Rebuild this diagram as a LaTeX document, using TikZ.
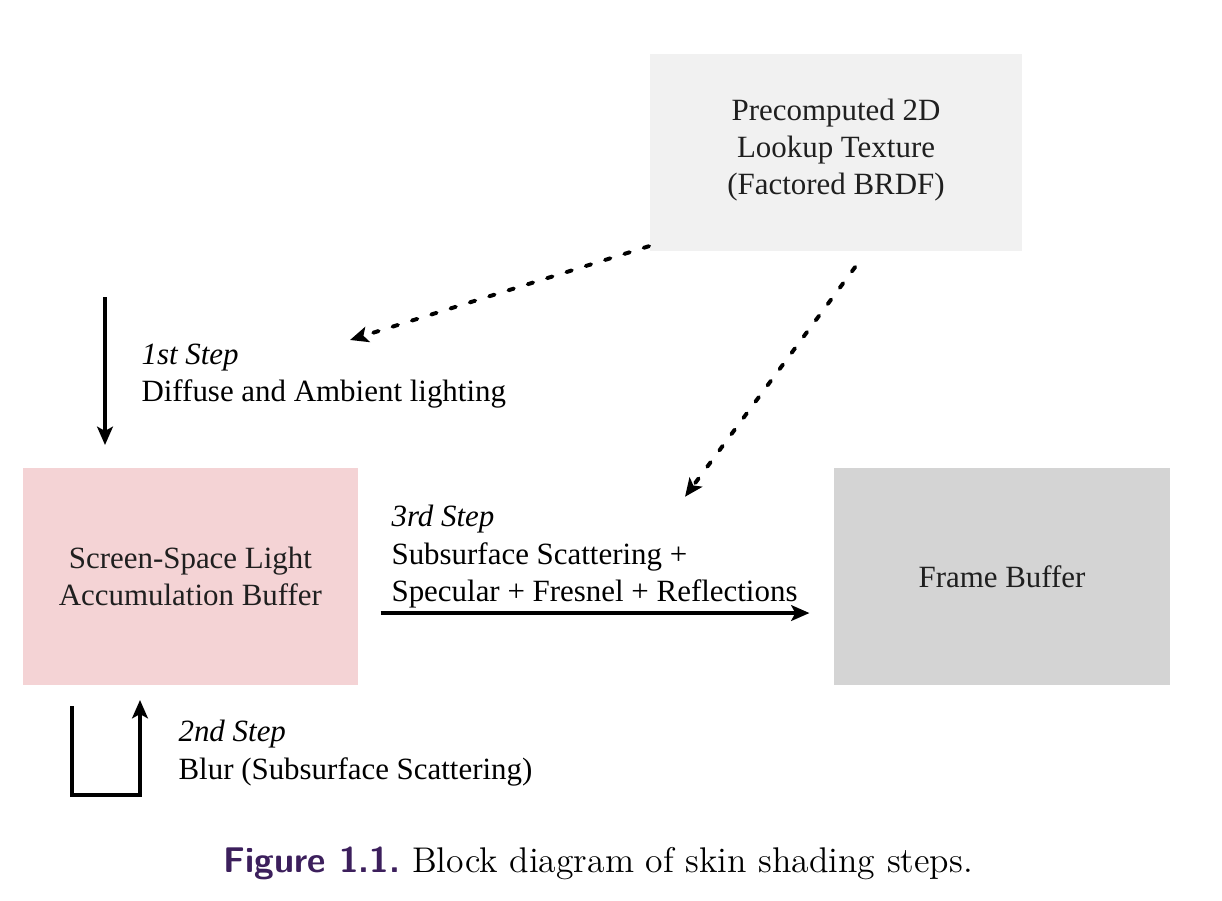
\documentclass[tikz,border=0pt]{standalone}
\usepackage{fontspec}
\setmainfont{Liberation Serif}
\newfontfamily\capfont{Latin Modern Roman}
\newfontfamily\capsans{Latin Modern Sans}
\usetikzlibrary{arrows,arrows.meta}
\usetikzlibrary{positioning, calc}
\definecolor{texgray}{HTML}{F1F1F1}
\definecolor{lightpink}{HTML}{F4D3D5}
\definecolor{framegray}{HTML}{D4D4D4}
\definecolor{capviolet}{HTML}{3C1F5C}
\tikzset{
    block/.style={fill=#1, draw=none, align=center, inner sep=0pt,
        font=\fontsize{11pt}{13.2pt}\selectfont, text=black!88},
    steptext/.style={align=left, anchor=west, inner sep=0pt,
        font=\fontsize{11pt}{13.4pt}\selectfont},
    solidarrow/.style={line width=1.4pt, -{Stealth[length=6.5pt, width=5.6pt, inset=1.5pt]}},
    dotarrow/.style={line width=1.4pt, line cap=round, dash pattern=on 2pt off 5.2pt,
        -{Stealth[length=6.5pt, width=5.6pt, inset=1.5pt]}}
}

\begin{document}
\begin{tikzpicture}
    \useasboundingbox (0,0) rectangle (15.275,11.25);
    % blocks
    \node[block=texgray, minimum width=4.66cm, minimum height=2.46cm] (lut) at (10.45,9.34)
        {Precomputed 2D\\Lookup Texture\\(Factored BRDF)\\[-0.32cm]};
    \node[block=lightpink, minimum width=4.19cm, minimum height=2.71cm] (light) at (2.38,4.044)
        {Screen-Space Light\\Accumulation Buffer};
    \node[block=framegray, minimum width=4.2cm, minimum height=2.71cm] (frame) at (12.525,4.044)
        {Frame Buffer};
    % free ends
    \coordinate (s1top) at (1.3125,7.5375);
    \coordinate (s1bot) at (1.3125,5.6875);
    \coordinate (d1end) at (4.375,7.0);
    \coordinate (d2end) at (8.5625,5.04);
    \coordinate (s2a) at (0.9,2.425);
    \coordinate (s2b) at (0.9,1.3125);
    \coordinate (s2c) at (1.75,1.3125);
    \coordinate (s2d) at (1.75,2.5);
    % connectors
    \draw[solidarrow] (s1top) -- (s1bot);
    \draw[dotarrow] ($(lut.south west)+(0,0.07)$) -- (d1end);
    \draw[dotarrow] ($(lut.south)+(0.24,-0.19)$) -- (d2end);
    \draw[solidarrow] ($(light.east)+(0.275,-0.457)$) -- ($(frame.west)+(-0.3,-0.457)$);
    \draw[solidarrow, line join=miter] (s2a) -- (s2b) -- (s2c) -- (s2d);
    % labels
    \node[steptext] (step1) at (1.7625,6.55) {\textit{1st Step}\\Diffuse and Ambient lighting};
    \node[steptext] (step3) at (4.8875,4.29) {\textit{3rd Step}\\Subsurface Scattering +\\Specular + Fresnel + Reflections};
    \node[steptext] (step2) at (2.225,1.84) {\textit{2nd Step}\\Blur (Subsurface Scattering)};
    % caption
    \node[inner sep=0pt, font=\fontsize{12.7pt}{15pt}\selectfont] (caption) at (7.48,0.46)
        {{\capsans\bfseries\color{capviolet}Figure 1.1.} {\capfont Block diagram of skin shading steps.}};
\end{tikzpicture}
\end{document}
